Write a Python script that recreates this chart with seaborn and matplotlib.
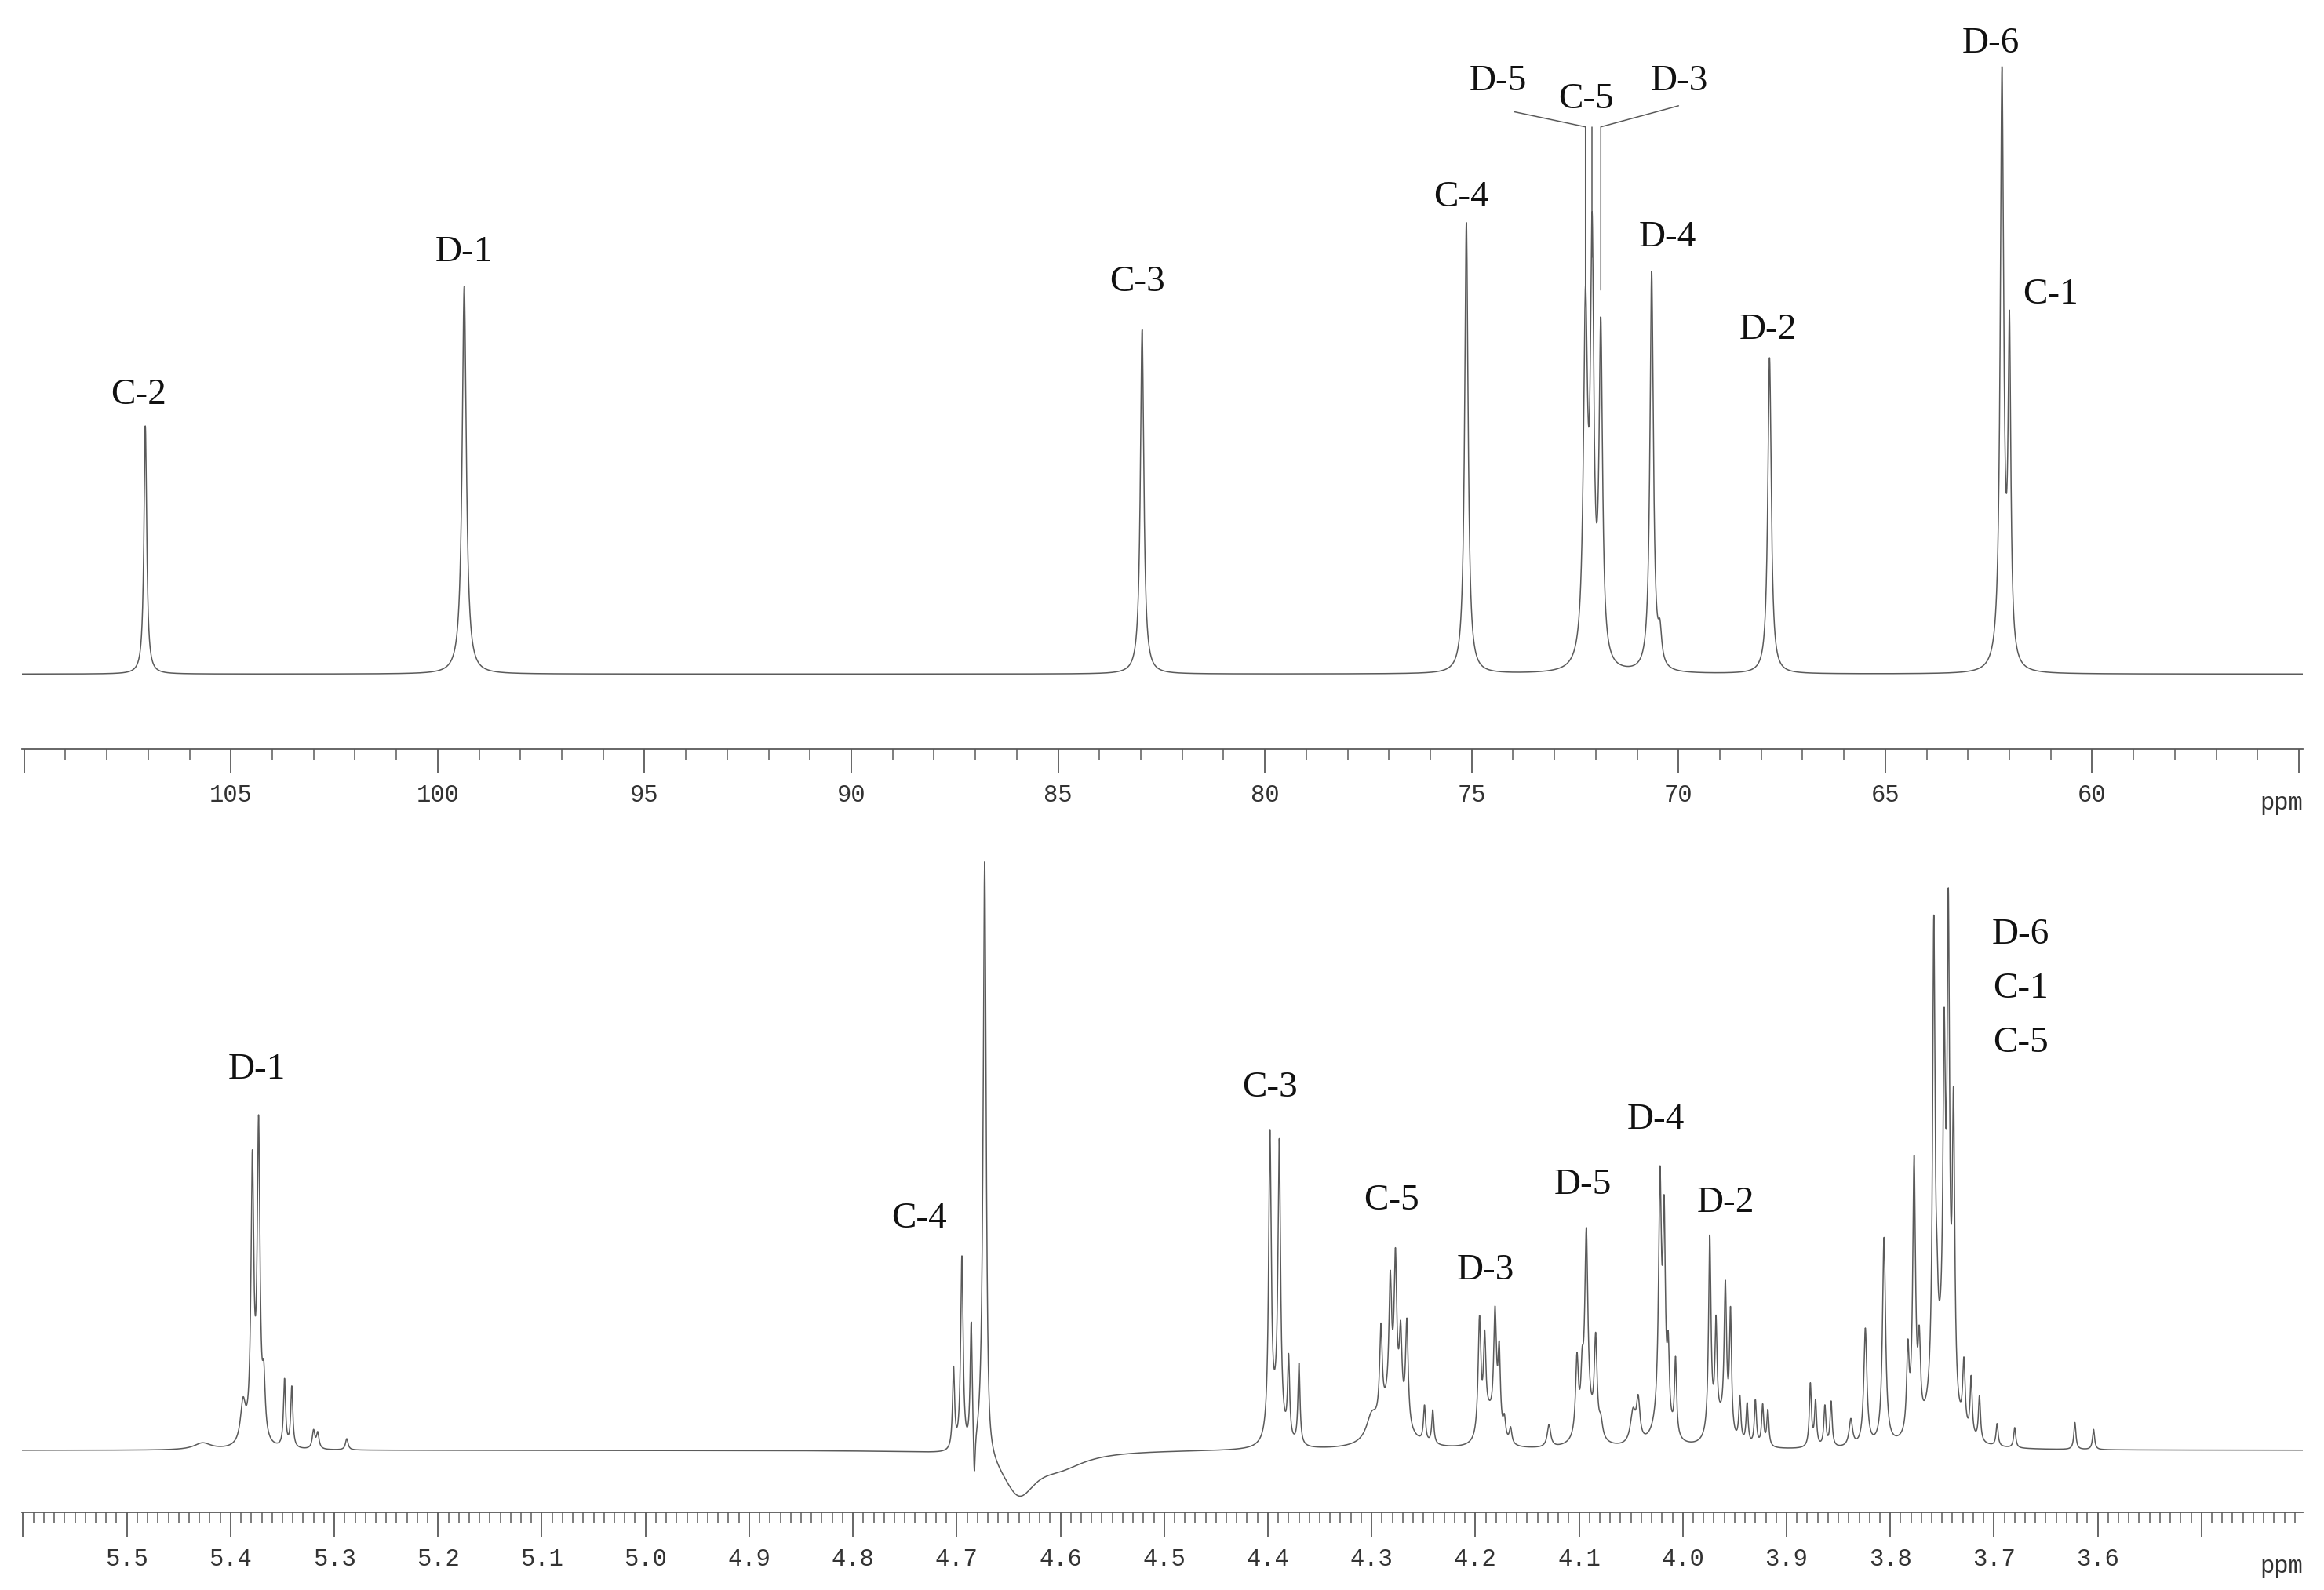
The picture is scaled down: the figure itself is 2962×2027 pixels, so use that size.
import numpy as np
import matplotlib
matplotlib.use("Agg")
import matplotlib.pyplot as plt
import seaborn as sns
import pandas as pd
from matplotlib.ticker import MultipleLocator, FixedLocator

sns.set_theme(style="white")
plt.rcParams['font.family'] = ['DejaVu Sans']

# ---------------- 13C spectrum (top) ----------------
c13_pos = [107.07, 99.36, 82.97, 75.13, 72.25, 72.09, 71.88, 70.65, 70.45, 67.80, 62.18, 62.00]
c13_height = [495, 773, 686, 900, 690, 800, 650, 795, 60, 630, 1180, 640]
c13_width = [0.04, 0.06, 0.05, 0.05, 0.06, 0.05, 0.05, 0.05, 0.05, 0.05, 0.05, 0.04]

c13_labels = ["C-2", "D-1", "C-3", "C-4", "D-5", "C-5", "D-3", "D-4", "D-2", "D-6", "C-1"]
c13_label_x = [107.24, 99.36, 83.09, 75.25, 74.37, 72.23, 69.98, 70.27, 67.83, 62.45, 61.01]
c13_label_y = [555, 840, 780, 950, 1180, 1145, 1180, 870, 685, 1255, 755]

lead_peak_x = [72.25, 72.09, 71.88]
lead_start_y = [760, 830, 765]
lead_top_y = [1090, 1090, 1090]
lead_end_x = [73.97, 72.09, 70.0]
lead_end_y = [1120, 1090, 1132]

c13_major = [110, 105, 100, 95, 90, 85, 80, 75, 70, 65, 60, 55]
c13_ticklabels = ["", "105", "100", "95", "90", "85", "80", "75", "70", "65", "60", ""]

# ---------------- 1H spectrum (bottom) ----------------
h1_pos = [5.427, 5.388, 5.379, 5.373, 5.368, 5.348, 5.341, 5.320, 5.316, 5.288,
          4.703, 4.695, 4.686, 4.683, 4.673, 4.670, 4.640, 4.600,
          4.398, 4.389, 4.380, 4.370, 4.392,
          4.300, 4.291, 4.282, 4.277, 4.272, 4.266, 4.280, 4.249, 4.241,
          4.196, 4.191, 4.181, 4.177, 4.187, 4.172, 4.166, 4.129,
          4.102, 4.097, 4.093, 4.084, 4.079, 4.092, 4.048, 4.043,
          4.022, 4.018, 4.014, 4.007, 4.020,
          3.974, 3.968, 3.959, 3.954, 3.965, 3.945, 3.938, 3.930, 3.923, 3.918,
          3.877, 3.872, 3.863, 3.857, 3.838,
          3.824, 3.806, 3.783, 3.777, 3.772, 3.758, 3.755, 3.748, 3.744, 3.739, 3.752,
          3.729, 3.722, 3.714, 3.697, 3.680, 3.622, 3.604]
h1_height = [15, 90, 610, 690, 120, 150, 135, 40, 35, 25,
             180, 430, 280, -110, 1370, -70, -95, -30,
             670, 630, 180, 180, 50,
             50, 200, 260, 310, 170, 230, 100, 80, 75,
             260, 190, 260, 180, 60, 45, 35, 50,
             170, 100, 420, 210, 35, 50, 70, 90,
             520, 420, 150, 170, 60,
             440, 220, 320, 270, 50, 100, 90, 100, 90, 80,
             140, 100, 90, 100, 60,
             260, 460, 180, 600, 170, 1030, 100, 700, 1020, 650, 150,
             150, 130, 100, 50, 45, 60, 45]
h1_width = [0.01, 0.003, 0.0016, 0.0016, 0.0016, 0.0012, 0.0012, 0.0015, 0.0015, 0.0015,
            0.0012, 0.0014, 0.0012, 0.0010, 0.0018, 0.003, 0.02, 0.03,
            0.0015, 0.0015, 0.0012, 0.0012, 0.006,
            0.006, 0.0015, 0.0015, 0.0015, 0.0015, 0.0015, 0.012, 0.0012, 0.0012,
            0.0016, 0.0014, 0.0016, 0.0014, 0.006, 0.0015, 0.0015, 0.002,
            0.0016, 0.0014, 0.0018, 0.0016, 0.002, 0.008, 0.003, 0.002,
            0.0016, 0.0014, 0.0012, 0.0012, 0.008,
            0.0014, 0.0012, 0.0014, 0.0012, 0.008, 0.0012, 0.0012, 0.0012, 0.0012, 0.0012,
            0.0012, 0.0012, 0.0012, 0.0012, 0.002,
            0.0018, 0.0018, 0.0014, 0.0016, 0.0014, 0.0014, 0.0012, 0.0014, 0.0014, 0.0014, 0.01,
            0.0014, 0.0012, 0.0012, 0.0012, 0.0012, 0.0012, 0.0012]

h1_labels = ["D-1", "C-4", "C-3", "C-5", "D-3", "D-5", "D-4", "D-2", "D-6", "C-1", "C-5"]
h1_label_x = [5.375, 4.736, 4.398, 4.281, 4.190, 4.096, 4.026, 3.959, 3.674, 3.674, 3.674]
h1_label_y = [845, 515, 805, 555, 400, 590, 735, 550, 1145, 1025, 905]

h1_major = [5.6, 5.5, 5.4, 5.3, 5.2, 5.1, 5.0, 4.9, 4.8, 4.7, 4.6, 4.5, 4.4, 4.3, 4.2, 4.1, 4.0, 3.9, 3.8, 3.7, 3.6, 3.5]
h1_ticklabels = ["", "5.5", "5.4", "5.3", "5.2", "5.1", "5.0", "4.9", "4.8", "4.7", "4.6", "4.5",
                 "4.4", "4.3", "4.2", "4.1", "4.0", "3.9", "3.8", "3.7", "3.6", ""]


def spectrum(grid, pos, height, width):
    y = np.zeros_like(grid)
    for p, h, w in zip(pos, height, width):
        y += h / (1 + ((grid - p) / w) ** 2)
    return y


X13_LIM = (110.05, 54.9)
X1_LIM = (5.601, 3.402)
x13 = np.linspace(X13_LIM[0], X13_LIM[1], 12000)
y13 = spectrum(x13, c13_pos, c13_height, c13_width)
x1 = np.linspace(X1_LIM[0], X1_LIM[1], 16000)
y1 = spectrum(x1, h1_pos, h1_height, h1_width)
df13 = pd.DataFrame({"ppm": x13, "I": y13})
df1 = pd.DataFrame({"ppm": x1, "I": y1})

fig = plt.figure(figsize=(29.62, 20.27), dpi=100)
fig.patch.set_facecolor("white")
ax1 = fig.add_axes([0.0095, 0.529, 0.9815, 0.443])
ax2 = fig.add_axes([0.0095, 0.0488, 0.9815, 0.433])

lc = "#5a5a5a"
mono = "Liberation Mono"
serif = "Liberation Serif"

for ax, df, xl, yl in [(ax1, df13, X13_LIM, (-149, 1254)),
                       (ax2, df1, X1_LIM, (-138, 1392))]:
    sns.lineplot(data=df, x="ppm", y="I", ax=ax, color=lc, linewidth=1.1, sort=False)
    ax.set_ylim(*yl)
    ax.set_facecolor("white")
    for s in ["top", "left", "right"]:
        ax.spines[s].set_visible(False)
    ax.spines["bottom"].set_color(lc)
    ax.spines["bottom"].set_linewidth(1.3)
    ax.set_yticks([])
    ax.set_xlabel("")
    ax.set_ylabel("")
    ax.tick_params(axis="x", which="major", direction="out", length=22, width=1.3,
                   color=lc, labelsize=22, labelcolor="#333333", pad=10, bottom=True)
    ax.tick_params(axis="x", which="minor", direction="out", length=10, width=1.1,
                   color=lc, bottom=True)
    ax.text(1.0, -0.06 if ax is ax1 else -0.062, "ppm", transform=ax.transAxes, ha="right",
            va="top", fontsize=22, family=mono, color="#333333")

ax1.xaxis.set_major_locator(FixedLocator(c13_major))
ax1.set_xticklabels(c13_ticklabels, family=mono)
ax1.xaxis.set_minor_locator(MultipleLocator(1))
ax2.xaxis.set_major_locator(FixedLocator(h1_major))
ax2.set_xticklabels(h1_ticklabels, family=mono)
ax2.xaxis.set_minor_locator(MultipleLocator(0.01))
ax1.set_xlim(*X13_LIM)
ax2.set_xlim(*X1_LIM)

for t, x, y in zip(c13_labels, c13_label_x, c13_label_y):
    ax1.text(x, y, t, ha="center", va="center", fontsize=34, family=serif, color="#111111")
for px, sy, ty, ex, ey in zip(lead_peak_x, lead_start_y, lead_top_y, lead_end_x, lead_end_y):
    ax1.plot([px, px, ex], [sy, ty, ey], color=lc, linewidth=1.1)
for t, x, y in zip(h1_labels, h1_label_x, h1_label_y):
    ax2.text(x, y, t, ha="center", va="center", fontsize=34, family=serif, color="#111111")

fig.savefig("out.png", dpi=100, facecolor="white")
